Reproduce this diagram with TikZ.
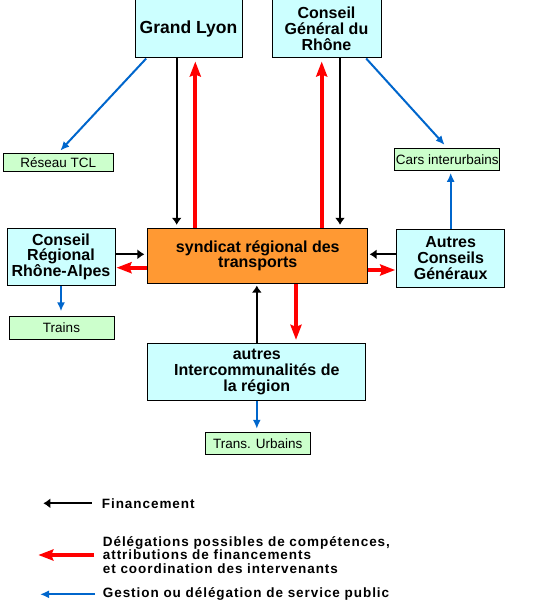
\documentclass[tikz,border=0pt]{standalone}
\usepackage{fontspec}
\setmainfont{Liberation Sans}
\newfontfamily\legendfont{Liberation Sans}[LetterSpace=7]
\usetikzlibrary{arrows.meta}
\pgfdeclarelayer{edgelayer}
\pgfdeclarelayer{nodelayer}
\pgfsetlayers{edgelayer,nodelayer,main}
\definecolor{organfill}{HTML}{CCFFFF}
\definecolor{servicefill}{HTML}{CCFFCC}
\definecolor{syndicatfill}{HTML}{FF9933}
\definecolor{gestionblue}{HTML}{0066CC}
\tikzstyle{organ}=[rectangle,fill=organfill,draw=black,line width=1pt,inner sep=0pt,align=center,font=\fontsize{16}{15.8}\selectfont\bfseries]
\tikzstyle{syndicat}=[organ,fill=syndicatfill]
\tikzstyle{service}=[rectangle,fill=servicefill,draw=black,line width=1pt,inner sep=0pt,font=\fontsize{13.5}{14}\selectfont]
\tikzstyle{financement}=[-{Latex[length=7pt,width=10pt]},draw=black,line width=2pt]
\tikzstyle{delegation}=[-{Stealth[length=15pt,width=11pt,inset=2pt]},draw=red,line width=4pt]
\tikzstyle{gestion}=[-{Latex[length=9pt,width=8pt]},draw=gestionblue,line width=2pt]
\tikzstyle{legend}=[anchor=west,align=left,inner sep=0pt,font=\legendfont\fontsize{13.5}{13.8}\selectfont\bfseries]

\begin{document}
\begin{tikzpicture}[x=1pt,y=-1pt]
	\useasboundingbox (0,0) rectangle (538,601);
	\begin{pgfonlayer}{nodelayer}
		\node [style=organ, minimum width=107, minimum height=58] (gl) at (188.5, 29) {\fontsize{17.5}{18}\selectfont Grand Lyon};
		\node [style=organ, minimum width=109, minimum height=58] (cgr) at (326.5, 29) {Conseil\\Général du\\Rhône};
		\node [style=service, minimum width=110, minimum height=18.4] (tcl) at (58.3, 162.5) {Réseau TCL};
		\node [style=service, minimum width=105.3, minimum height=22] (cars) at (447.3, 159.3) {Cars interurbains};
		\node [style=organ, minimum width=108, minimum height=56.7] (crra) at (61, 256.7) {Conseil\\Régional\\Rhône-Alpes};
		\node [style=syndicat, minimum width=219.7, minimum height=54.7] (srt) at (257.8, 255.7) {syndicat régional des\\transports};
		\node [style=organ, minimum width=108, minimum height=58] (acg) at (450.7, 258.3) {Autres\\Conseils\\Généraux};
		\node [style=service, minimum width=105, minimum height=22.7] (trains) at (61.5, 327.7) {Trains};
		\node [style=organ, minimum width=217.7, minimum height=56.7] (aic) at (256.8, 371.7) {autres\\Intercommunalités de\\la région};
		\node [style=service, minimum width=104.7, minimum height=21.7] (tu) at (257.7, 443.2) {Trans. Urbains};
		\node [style=legend] (lfin) at (101.7, 503.3) {Financement};
		\node [style=legend] (ldel) at (102.7, 555) {Délégations possibles de compétences,\\attributions de financements\\et coordination des intervenants};
		\node [style=legend] (lges) at (102.7, 594.3) {Gestion ou délégation de service public};
		\coordinate (lfin end) at (43.3, 503.3);
		\coordinate (ldel end) at (38.3, 555);
		\coordinate (lges end) at (40, 594.3);
	\end{pgfonlayer}
	\begin{pgfonlayer}{edgelayer}
		\draw [style=financement, shorten >=3pt] ([xshift=-11.8pt]gl.south) to ([xshift=-11.8pt]gl.south |- srt.north);
		\draw [style=delegation, shorten >=3pt] ([xshift=6.8pt]gl.south |- srt.north) to ([xshift=6.8pt]gl.south);
		\draw [style=delegation, shorten >=3pt] ([xshift=-4.8pt]cgr.south |- srt.north) to ([xshift=-4.8pt]cgr.south);
		\draw [style=financement, shorten >=3pt] ([xshift=13.5pt]cgr.south) to ([xshift=13.5pt]cgr.south |- srt.north);
		\draw [style=gestion, shorten >=3pt] ([xshift=11.7pt]gl.south west) to (tcl.north);
		\draw [style=gestion, shorten >=4pt] ([xshift=-15.3pt]cgr.south east) to (cars.north);
		\draw [style=gestion, shorten >=2pt] (acg.north) to (acg.north |- cars.south);
		\draw [style=financement, shorten >=3pt] ([yshift=2.4pt]crra.east) to ([yshift=2.4pt]crra.east -| srt.west);
		\draw [style=delegation, shorten >=1pt] ([yshift=-12pt]srt.west) to ([yshift=-12pt]srt.west -| crra.east);
		\draw [style=financement, shorten >=1.5pt] ([yshift=4pt]acg.west) to ([yshift=4pt]acg.west -| srt.east);
		\draw [style=delegation, shorten >=1pt] ([yshift=-14.3pt]srt.east) to ([yshift=-14.3pt]srt.east -| acg.west);
		\draw [style=gestion, shorten >=4.5pt] (crra.south) to (crra.south |- trains.north);
		\draw [style=financement, shorten >=2pt] (aic.north) to (aic.north |- srt.south);
		\draw [style=delegation, shorten >=3pt] ([xshift=38.2pt]srt.south) to ([xshift=38.2pt]srt.south |- aic.north);
		\draw [style=gestion, shorten >=3pt] (aic.south) to (aic.south |- tu.north);
		\draw [style=financement, shorten <=10pt] (lfin.west) to (lfin end);
		\draw [style=delegation, shorten <=8.7pt] (ldel.west) to (ldel end);
		\draw [style=gestion, shorten <=7.7pt] (lges.west) to (lges end);
	\end{pgfonlayer}
\end{tikzpicture}
\end{document}
